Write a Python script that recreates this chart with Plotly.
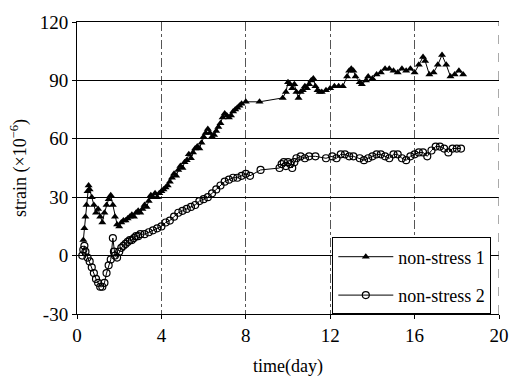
import plotly.graph_objects as go

# non-stress 1 (filled triangles)
t1 = [0.3, 0.35, 0.4, 0.45, 0.5, 0.55, 0.6, 0.7, 0.8, 0.9, 1.0, 1.1, 1.2, 1.3, 1.4, 1.5, 1.6, 1.7, 1.8, 1.9,
      2.0, 2.1, 2.2, 2.3, 2.4, 2.5, 2.6, 2.7, 2.8, 2.9, 3.0, 3.1, 3.2, 3.3, 3.4, 3.5, 3.6, 3.7, 3.8, 3.9,
      4.0, 4.1, 4.2, 4.3, 4.4, 4.5, 4.6, 4.7, 4.8, 4.9, 5.0, 5.1, 5.2, 5.3, 5.4, 5.5, 5.6, 5.7, 5.8, 5.9,
      6.0, 6.1, 6.2, 6.3, 6.4, 6.5, 6.6, 6.7, 6.8, 6.9, 7.0, 7.1, 7.2, 7.3, 7.4, 7.5, 7.6, 7.7, 7.8, 8.0,
      8.65, 9.75, 9.9, 10.0, 10.1, 10.2, 10.3, 10.4, 10.5, 10.6, 10.7, 10.8, 10.9, 11.0, 11.1, 11.2, 11.3,
      11.4, 11.5, 11.6, 11.8, 12.0, 12.2, 12.4, 12.6, 12.8, 12.9, 13.0, 13.1, 13.2, 13.4, 13.5, 13.7, 13.8,
      14.0, 14.2, 14.4, 14.6, 14.8, 15.0, 15.2, 15.4, 15.6, 15.8, 16.0, 16.2, 16.4, 16.5, 16.7, 16.9, 17.1,
      17.3, 17.5, 17.7, 17.9, 18.1, 18.3]
s1 = [8, 14, 20, 26, 33, 36, 34, 30, 26, 22, 24, 20, 17, 22, 26, 29, 31, 26, 20, 16,
      15, 17, 18, 18, 19, 20, 21, 20, 22, 23, 22, 24, 26, 25, 28, 31, 30, 32, 30, 32,
      33, 34, 35, 36, 38, 40, 42, 41, 44, 46, 45, 48, 49, 52, 50, 53, 55, 56, 55, 58,
      61, 63, 65, 63, 61, 62, 64, 66, 68, 71, 73, 72, 71, 72, 74, 75, 76, 77, 78, 79,
      79, 81, 84, 89, 88, 86, 88, 84, 81, 84, 85, 87, 86, 88, 90, 91, 87,
      85, 84, 84, 85, 86, 87, 87, 87, 92, 95, 96, 95, 92, 89, 88, 90, 92,
      91, 93, 94, 96, 96, 95, 94, 96, 95, 96, 94, 98, 102, 100, 93, 94, 98,
      103, 98, 92, 93, 95, 93]

# non-stress 2 (open circles)
t2 = [0.25, 0.3, 0.35, 0.4, 0.5, 0.6, 0.7, 0.8, 0.9, 1.0, 1.1, 1.2, 1.3, 1.4, 1.5, 1.6, 1.7, 1.75, 1.8, 1.9,
      2.0, 2.1, 2.2, 2.3, 2.4, 2.5, 2.6, 2.7, 2.8, 2.9, 3.0, 3.2, 3.4, 3.6, 3.8, 4.0, 4.2, 4.4, 4.6, 4.8,
      5.0, 5.2, 5.4, 5.6, 5.8, 6.0, 6.2, 6.4, 6.6, 6.8, 7.0, 7.2, 7.4, 7.6, 7.8, 8.0, 8.2, 8.7, 9.6, 9.7,
      9.8, 9.9, 10.0, 10.1, 10.2, 10.3, 10.4, 10.6, 10.8, 11.0, 11.3, 11.8, 12.1, 12.3, 12.5, 12.7, 12.9,
      13.1, 13.4, 13.6, 13.8, 14.0, 14.2, 14.4, 14.6, 14.8, 15.0, 15.2, 15.4, 15.6, 15.8, 16.0, 16.2, 16.4,
      16.6, 16.8, 17.0, 17.2, 17.4, 17.6, 17.8, 18.0, 18.2]
s2 = [0, 3, 5, 2, -1, -3, -6, -9, -12, -14, -16, -16, -14, -9, -5, -2, 9, 2, 0, -1,
      2, 4, 5, 6, 7, 8, 8, 9, 10, 10, 11, 11, 12, 13, 14, 15, 17, 18, 20, 22,
      23, 24, 25, 26, 28, 29, 30, 32, 34, 36, 38, 39, 40, 40, 41, 42, 41, 44, 45, 47,
      48, 46, 48, 47, 45, 48, 50, 51, 50, 51, 51, 50, 51, 50, 52, 52, 51,
      51, 50, 49, 50, 51, 52, 52, 51, 50, 52, 52, 50, 49, 51, 52, 53, 53,
      51, 54, 56, 56, 55, 53, 55, 55, 55]

x_ticks = [0, 4, 8, 12, 16, 20]
y_ticks = [-30, 0, 30, 60, 90, 120]

FONT = "'Liberation Serif', 'DejaVu Serif', serif"

fig = go.Figure()
fig.add_trace(go.Scatter(
    x=t1, y=s1, name="non-stress 1", mode="lines+markers", legendgroup="a",
    line=dict(color="black", width=1),
    marker=dict(symbol="triangle-up", size=7, color="black"),
))
fig.add_trace(go.Scatter(
    x=t2, y=s2, name="non-stress 2", mode="lines+markers", legendgroup="b",
    line=dict(color="black", width=1),
    marker=dict(symbol="circle-open", size=7, color="black", line=dict(width=1.2)),
))

fig.add_shape(type="line", xref="x", yref="paper", x0=20, x1=20, y0=0, y1=1,
              line=dict(color="#555", width=1, dash="dash"))

fig.update_layout(
    width=521, height=384,
    margin=dict(l=77, r=14, t=14, b=68),
    paper_bgcolor="white", plot_bgcolor="white",
    font=dict(family=FONT, size=18, color="black"),
    showlegend=True,
    legend=dict(
        x=0.605, y=0.262, xanchor="left", yanchor="top",
        bgcolor="white", bordercolor="black", borderwidth=1,
        font=dict(family=FONT, size=18), itemwidth=55,
        tracegroupgap=12,
    ),
)
fig.update_xaxes(
    range=[0, 20], tickvals=x_ticks, ticktext=[str(v) for v in x_ticks],
    showline=True, linecolor="black", linewidth=1, mirror=True,
    showgrid=True, gridcolor="#555", gridwidth=1, griddash="dashdot",
    ticks="outside", ticklen=4, tickcolor="black",
    title=dict(text="time(day)", standoff=14, font=dict(family=FONT, size=18)),
    tickfont=dict(family=FONT, size=19),
    zeroline=False,
)
fig.update_yaxes(
    range=[-30, 120], tickvals=y_ticks, ticktext=[str(v) for v in y_ticks],
    showline=True, linecolor="black", linewidth=1,
    showgrid=True, gridcolor="black", gridwidth=1,
    ticks="outside", ticklen=4, tickcolor="black",
    title=dict(text="strain (×10<sup>−6</sup>)", standoff=8, font=dict(family=FONT, size=18)),
    tickfont=dict(family=FONT, size=19),
    zeroline=False,
)

fig.write_html("out.html")
